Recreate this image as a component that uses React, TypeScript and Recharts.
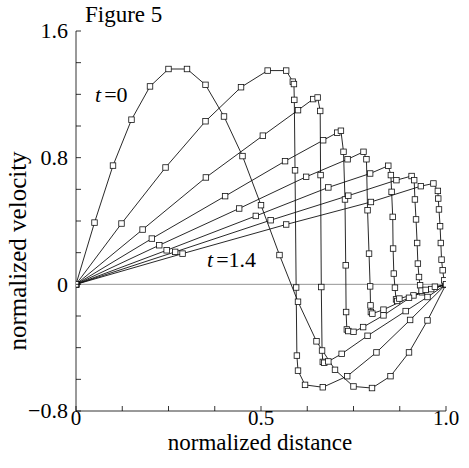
import React from 'react'
import { ComposedChart, Line, XAxis, YAxis, ReferenceLine } from 'recharts'

// each curve: [normalized distance, normalized velocity] markers
type Pt = [number, number]

const curveT00: Pt[] = [
  [0, 0], [0.05, 0.39], [0.1, 0.75], [0.15, 1.04], [0.2, 1.25], [0.25, 1.36], [0.3, 1.36],
  [0.35, 1.26], [0.4, 1.06], [0.45, 0.81], [0.5, 0.5], [0.55, 0.185], [0.6, -0.11], [0.65, -0.36],
  [0.7, -0.54], [0.75, -0.645], [0.8, -0.655], [0.85, -0.58], [0.9, -0.43], [0.95, -0.228], [1, 0],
]
const curveT02: Pt[] = [
  [0, 0], [0.123, 0.384], [0.242, 0.738], [0.35, 1.03], [0.446, 1.245], [0.518, 1.35], [0.568, 1.35],
  [0.586, 1.28], [0.589, 1.265], [0.59, 1.165], [0.592, 0.72], [0.595, -0.02], [0.597, -0.45],
  [0.6, -0.545], [0.619, -0.635], [0.667, -0.65], [0.733, -0.58], [0.812, -0.43], [0.903, -0.225], [1, 0],
]
const curveT04: Pt[] = [
  [0, 0], [0.18, 0.346], [0.351, 0.675], [0.505, 0.939], [0.6, 1.1], [0.641, 1.17], [0.653, 1.18],
  [0.66, 1.095], [0.661, 0.69], [0.663, -0.017], [0.665, -0.418], [0.667, -0.49], [0.671, -0.495],
  [0.682, -0.487], [0.718, -0.439], [0.788, -0.325], [0.891, -0.169], [0.95, -0.08], [1, 0],
]
const curveT06: Pt[] = [
  [0, 0], [0.205, 0.289], [0.403, 0.557], [0.565, 0.778], [0.668, 0.91], [0.706, 0.958], [0.716, 0.97],
  [0.723, 0.837], [0.727, 0.536], [0.729, 0.12], [0.73, -0.175], [0.732, -0.285], [0.736, -0.295],
  [0.75, -0.3], [0.776, -0.27], [0.831, -0.196], [0.912, -0.07], [1, 0],
]
const curveT08: Pt[] = [
  [0, 0], [0.225, 0.247], [0.441, 0.479], [0.622, 0.679], [0.734, 0.79], [0.777, 0.837], [0.785, 0.79],
  [0.788, 0.468], [0.792, 0.194], [0.795, -0.013], [0.796, -0.133], [0.797, -0.175], [0.801, -0.185],
  [0.831, -0.16], [0.9, -0.085], [0.96, -0.03], [1, 0],
]
const curveT10: Pt[] = [
  [0, 0], [0.245, 0.215], [0.486, 0.432], [0.682, 0.612], [0.795, 0.7], [0.844, 0.749], [0.851, 0.69],
  [0.853, 0.584], [0.856, 0.426], [0.857, 0.226], [0.859, 0.068], [0.862, -0.021], [0.865, -0.095],
  [0.868, -0.105], [0.874, -0.09], [0.935, -0.05], [1, 0],
]
const curveT12: Pt[] = [
  [0, 0], [0.268, 0.205], [0.526, 0.405], [0.736, 0.56], [0.866, 0.658], [0.907, 0.684], [0.914, 0.658],
  [0.916, 0.536], [0.919, 0.41], [0.922, 0.261], [0.924, 0.131], [0.927, 0.046], [0.93, -0.006],
  [0.934, -0.04], [0.945, -0.035], [0.97, -0.015], [1, 0],
]
const curveT14: Pt[] = [
  [0, 0], [0.288, 0.194], [0.568, 0.378], [0.797, 0.52], [0.932, 0.62], [0.966, 0.637], [0.978, 0.59],
  [0.979, 0.542], [0.981, 0.473], [0.984, 0.367], [0.986, 0.261], [0.988, 0.156], [0.991, 0.089],
  [0.995, 0.025], [1, 0],
]

const curves = [curveT00, curveT02, curveT04, curveT06, curveT08, curveT10, curveT12, curveT14]

const xTicks = [0, 0.125, 0.25, 0.375, 0.5, 0.625, 0.75, 0.875, 1]
const xMajor = [0, 0.5, 1]
const xMajorLabels = ['0', '0.5', '1.0']
const yTicks = [-0.8, -0.6, -0.4, -0.2, 0, 0.2, 0.4, 0.6, 0.8, 1.0, 1.2, 1.4, 1.6]
const yMajor = [-0.8, 0, 0.8, 1.6]
const yMajorLabels = ['\u22120.8', '0', '0.8', '1.6']

const FONT = '"Liberation Serif", "Times New Roman", serif'

const YTick = (props: any) => {
  const { x, y, payload } = props
  const i = yMajor.findIndex((m) => Math.abs(m - payload.value) < 1e-6)
  return (
    <g>
      <line x1={x} x2={x + 5} y1={y} y2={y} stroke="#000" strokeWidth={0.8} />
      {i >= 0 && (
        <text x={x - 8} y={y} dy="0.34em" textAnchor="end" fontFamily={FONT} fontSize={22} fill="#000">
          {yMajorLabels[i]}
        </text>
      )}
    </g>
  )
}

const XTick = (props: any) => {
  const { x, y, payload } = props
  const i = xMajor.findIndex((m) => Math.abs(m - payload.value) < 1e-6)
  return (
    <g>
      <line x1={x} x2={x} y1={y} y2={y - 5} stroke="#000" strokeWidth={0.8} />
      {i >= 0 && (
        <text x={x} y={y + 14} textAnchor="middle" fontFamily={FONT} fontSize={21} fill="#000">
          {xMajorLabels[i]}
        </text>
      )}
    </g>
  )
}

const squareDot = (s: number) => (p: any) => (
  <rect
    key={`d${s}-${p.index}`}
    x={p.cx - 2.75}
    y={p.cy - 2.75}
    width={5.5}
    height={5.5}
    fill="#fff"
    stroke="#111"
    strokeWidth={0.8}
  />
)

export default function App() {
  return (
    <div style={{ position: 'relative', width: 469, height: 468, background: '#fff' }}>
      <style>{'body{margin:0}'}</style>
      <ComposedChart width={469} height={468} margin={{ top: 31, right: 23, bottom: 0, left: 0 }}>
        <XAxis
          type="number"
          dataKey="x"
          domain={[0, 1]}
          ticks={xTicks}
          tick={<XTick />}
          tickSize={0}
          tickMargin={0}
          tickLine={false}
          axisLine={{ stroke: '#000', strokeWidth: 0.8 }}
          height={57}
          allowDataOverflow
          interval={0}
        />
        <YAxis
          type="number"
          domain={[-0.8, 1.6]}
          ticks={yTicks}
          tick={<YTick />}
          tickSize={0}
          tickMargin={0}
          tickLine={false}
          axisLine={{ stroke: '#000', strokeWidth: 0.8 }}
          width={76}
          allowDataOverflow
          interval={0}
        />
        <ReferenceLine y={0} stroke="#777" strokeWidth={0.8} />
        {curves.map((c, s) => (
          <Line
            key={s}
            data={c.map(([x, v]) => ({ x, v }))}
            dataKey="v"
            type="linear"
            stroke="#111"
            strokeWidth={0.9}
            dot={squareDot(s)}
            activeDot={false}
            isAnimationActive={false}
          />
        ))}
      </ComposedChart>
      <svg
        width={469}
        height={468}
        style={{ position: 'absolute', left: 0, top: 0, pointerEvents: 'none' }}
      >
        <g fontFamily={FONT} fill="#000">
          <text x={85} y={22} fontSize={23}>Figure 5</text>
          <text x={95} y={102} fontSize={22}>
            <tspan fontStyle="italic">t</tspan>
            <tspan dx={3}>=0</tspan>
          </text>
          <text x={207} y={267} fontSize={22}>
            <tspan fontStyle="italic">t</tspan>
            <tspan dx={3}>=1.4</tspan>
          </text>
          <text x={260} y={450} fontSize={23} textAnchor="middle">normalized distance</text>
          <text x={0} y={0} fontSize={25} textAnchor="middle" transform="translate(26,251) rotate(-90)">
            normalized velocity
          </text>
        </g>
      </svg>
    </div>
  )
}
